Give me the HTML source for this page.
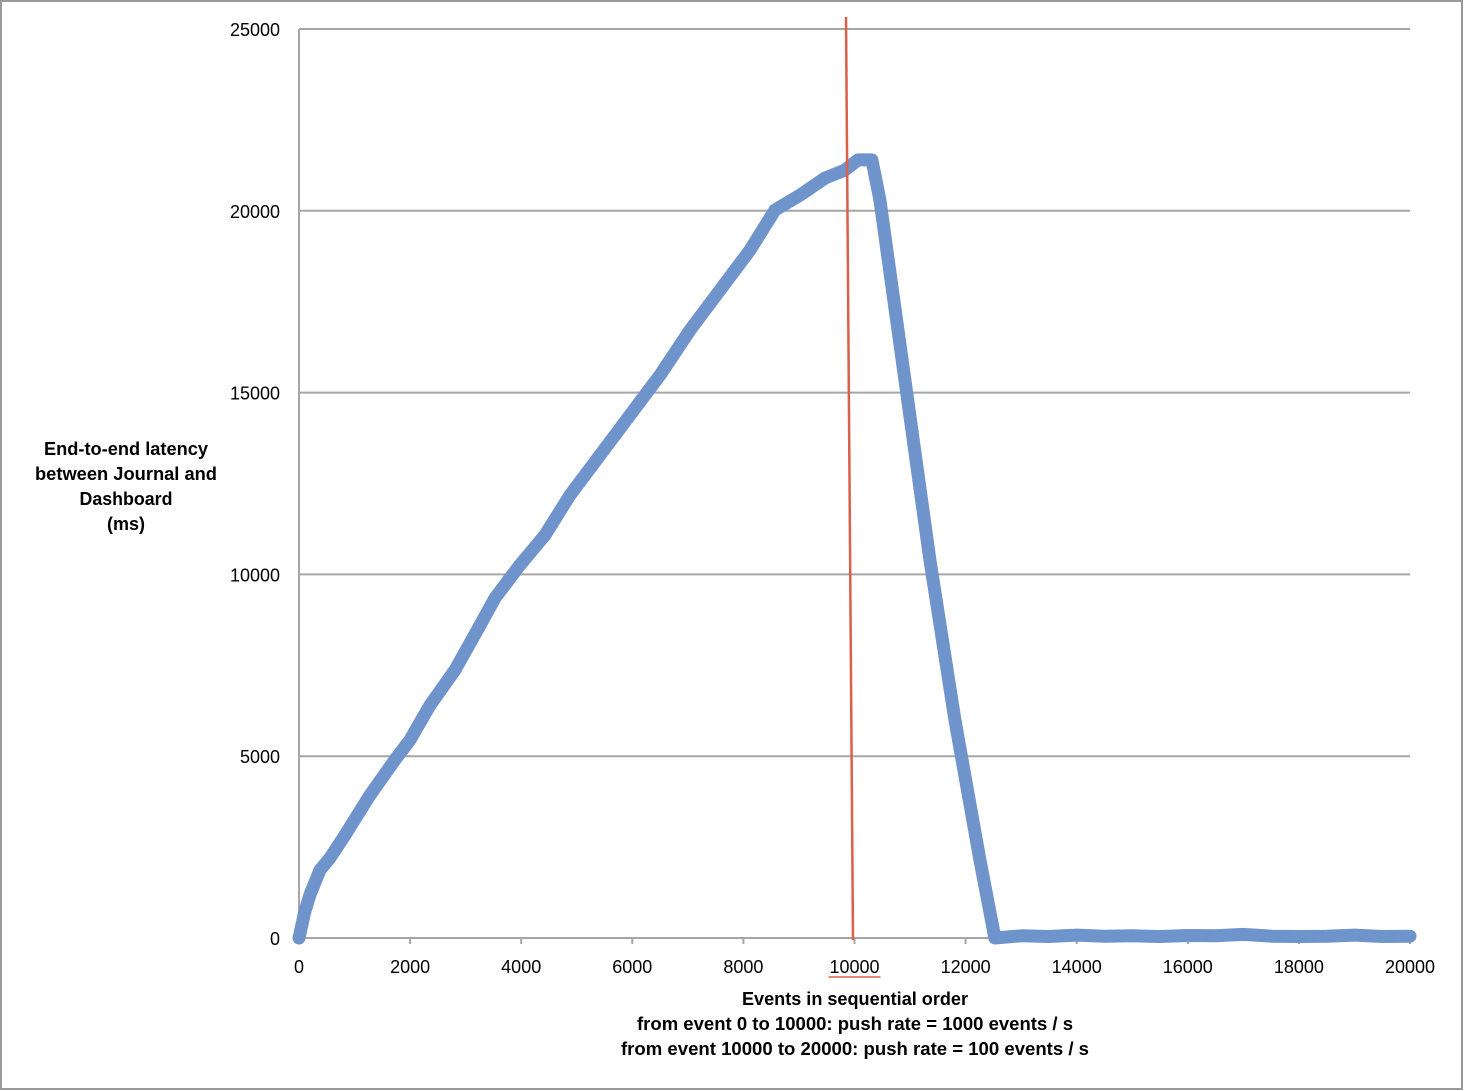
<!DOCTYPE html>
<html><head><meta charset="utf-8"><style>
html,body{margin:0;padding:0;background:#fff;}
svg{display:block;font-family:"Liberation Sans",sans-serif;}
</style></head><body>
<svg id="chart" width="1464" height="1091" viewBox="0 0 1464 1091">
<rect x="1" y="1" width="1461" height="1088" fill="#fff" stroke="#999" stroke-width="2"/>
<g id="grid"></g>
<g id="axes"></g>
<g id="series"></g>
<g id="labels"></g>
<line x1="846" y1="17" x2="853" y2="940" stroke="#d9604a" stroke-width="2.5"/>
<g font-size="18" font-weight="bold" text-anchor="middle" fill="#000">
<text x="126" y="455" textLength="164" lengthAdjust="spacingAndGlyphs">End-to-end latency</text>
<text x="126" y="480" textLength="182" lengthAdjust="spacingAndGlyphs">between Journal and</text>
<text x="126" y="505" textLength="93" lengthAdjust="spacingAndGlyphs">Dashboard</text>
<text x="126" y="530">(ms)</text>
</g>
<g font-size="18" font-weight="bold" text-anchor="middle" fill="#000">
<text x="855" y="1005" textLength="226" lengthAdjust="spacingAndGlyphs">Events in sequential order</text>
<text x="855" y="1030" textLength="436" lengthAdjust="spacingAndGlyphs">from event 0 to 10000: push rate = 1000 events / s</text>
<text x="855" y="1055" textLength="468" lengthAdjust="spacingAndGlyphs">from event 10000 to 20000: push rate = 100 events / s</text>
</g>
</svg>
<script>
const xTicks=[0,2000,4000,6000,8000,10000,12000,14000,16000,18000,20000];
const yTicks=[0,5000,10000,15000,20000,25000];
const xs=[0,100,200,378,558,828,1278,1728,2000,2358,2808,3258,3528,3978,4428,4878,5418,5958,6498,7038,7578,8118,8568,9018,9468,9828,10062,10314,10458,10908,11358,11808,12258,12528,13000,13500,14000,14500,15000,15500,16000,16500,17000,17500,18000,18500,19000,19500,20000];
const ys=[0,700,1200,1870,2200,2830,3930,4900,5450,6400,7370,8600,9350,10260,11080,12180,13280,14380,15480,16720,17820,18920,20020,20430,20900,21120,21400,21400,20300,15350,10400,6000,2150,0,60,40,80,50,60,40,70,60,100,50,40,50,80,40,50];
const NS='http://www.w3.org/2000/svg';
const X=v=>299+v*(1111/20000);
const Y=v=>938-v*(909/25000);
function mk(tag,attrs,parent){const e=document.createElementNS(NS,tag);for(const k in attrs)e.setAttribute(k,attrs[k]);parent.appendChild(e);return e;}
const grid=document.getElementById('grid'),axes=document.getElementById('axes'),labels=document.getElementById('labels'),series=document.getElementById('series');
yTicks.forEach(t=>{
 if(t>0){const g=mk('line',{x1:299,x2:1410,y1:Y(t),y2:Y(t),stroke:'#a6a6a6','stroke-width':2},grid);
 
 }
 const l=mk('text',{x:280,y:Y(t)+7,'font-size':18,'text-anchor':'end',fill:'#000'},labels);
 l.textContent=t;
 
 
});
const ya=mk('line',{x1:299,x2:299,y1:29,y2:938,stroke:'#a6a6a6','stroke-width':2},axes);


const xa=mk('line',{x1:299,x2:1410,y1:938,y2:938,stroke:'#a6a6a6','stroke-width':2},axes);


xTicks.forEach(t=>{
 const tk=mk('line',{x1:X(t),x2:X(t),y1:938,y2:944,stroke:'#a6a6a6','stroke-width':2},axes);
 
 
 const l=mk('text',{x:X(t),y:973,'font-size':18,'text-anchor':'middle',fill:'#000'},labels);
 l.textContent=t;
 
 
 if(t===10000){const u=mk('line',{x1:X(t)-26,x2:X(t)+26,y1:977,y2:977,stroke:'#d9604a','stroke-width':1.5},labels);
 
 }
});
const pts=xs.map((x,i)=>X(x).toFixed(1)+','+Y(ys[i]).toFixed(1)).join(' ');
const pl=mk('polyline',{points:pts,fill:'none',stroke:'#6f93cb','stroke-width':13,'stroke-linejoin':'round','stroke-linecap':'round'},series);


</script>
</body></html>
